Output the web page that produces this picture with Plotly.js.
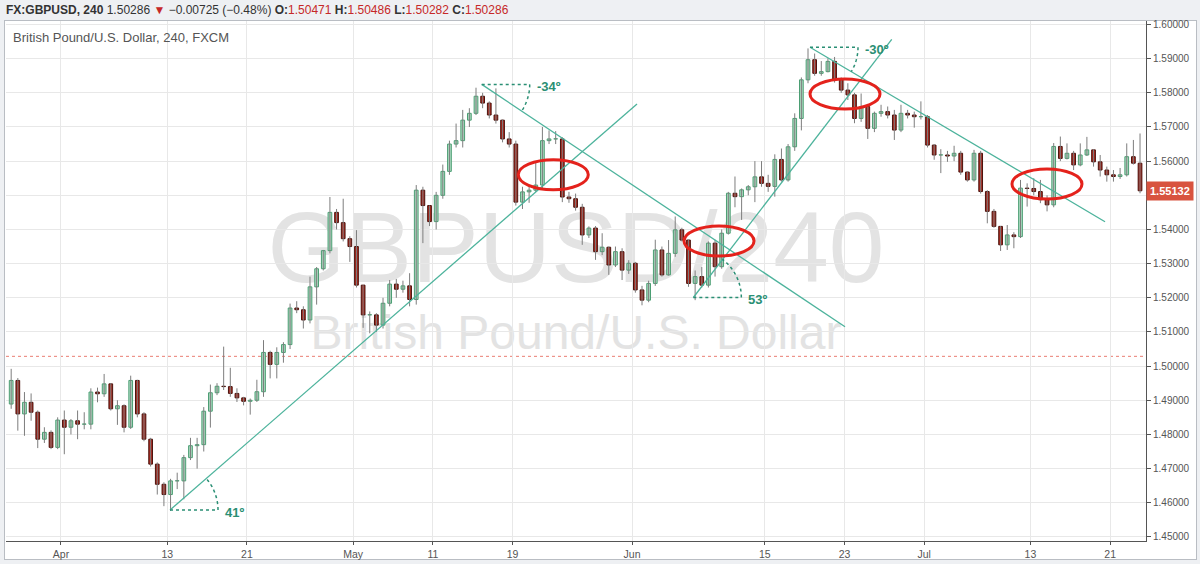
<!DOCTYPE html>
<html><head><meta charset="utf-8">
<script src="https://cdn.plot.ly/plotly-3.0.1.min.js"></script>
<style>
html,body{margin:0;padding:0;background:#eef0f3;width:1200px;height:564px;overflow:hidden;font-family:"Liberation Sans",Arial,sans-serif;}
#frame{position:absolute;left:4px;top:20px;width:1191px;height:538px;background:#fff;border:1px solid #b9bdc3;}
.wm{position:absolute;left:6px;width:1140px;text-align:center;color:#e3e3e3;white-space:nowrap;line-height:1;}
#wm1{font-size:100px;top:197px;}
#wm2{font-size:48px;top:309px;}
#chart{position:absolute;left:0;top:0;width:1200px;height:564px;}
#hdr{position:absolute;left:6px;top:3px;font-size:12px;color:#333;white-space:nowrap;}
#hdr .r{color:#c62828;}
#legend{position:absolute;left:13px;top:30px;font-size:13px;color:#555;white-space:nowrap;}
</style></head>
<body>
<div id="frame"></div>
<div class="wm" id="wm1">GBPUSD/240</div>
<div class="wm" id="wm2">British Pound/U.S. Dollar</div>
<div id="chart"></div>
<div id="hdr"><b>FX:GBPUSD, 240</b> 1.50286 <span class="r">▼</span> −0.00725 (−0.48%) <b>O:</b><span class="r">1.50471</span> <b>H:</b><span class="r">1.50486</span> <b>L:</b><span class="r">1.50282</span> <b>C:</b><span class="r">1.50286</span></div>
<div id="legend">British Pound/U.S. Dollar, 240, FXCM</div>
<script>
// ---- data (half-day bars; open = previous close) ----
const barsPerDay = 2;
const open0 = 1.4889;
const highs = [
1.4992,1.4965,1.4924,1.4920,1.4870,1.4821,1.4812,1.4850,1.4870,1.4845,
1.4870,1.4865,1.4935,1.4937,1.4977,1.4950,1.4900,1.4888,1.4972,1.4960,
1.4865,1.4790,1.4718,1.4660,1.4670,1.4688,1.4740,1.4790,1.4790,1.4880,
1.4946,1.4950,1.5057,1.4995,1.4935,1.4910,1.4905,1.4960,1.5076,1.5045,
1.5055,1.5070,1.5183,1.5190,1.5175,1.5262,1.5290,1.5340,1.5495,1.5460,
1.5490,1.5380,1.5398,1.5237,1.5160,1.5155,1.5200,1.5252,1.5255,1.5250,
1.5272,1.5530,1.5525,1.5470,1.5510,1.5590,1.5660,1.5710,1.5750,1.5755,
1.5815,1.5800,1.5775,1.5813,1.5722,1.5685,1.5660,1.5525,1.5530,1.5596,
1.5700,1.5690,1.5688,1.5670,1.5510,1.5505,1.5475,1.5409,1.5410,1.5389,
1.5350,1.5350,1.5345,1.5310,1.5305,1.5235,1.5250,1.5370,1.5350,1.5369,
1.5438,1.5405,1.5370,1.5280,1.5290,1.5365,1.5370,1.5400,1.5510,1.5555,
1.5520,1.5530,1.5600,1.5600,1.5560,1.5620,1.5637,1.5650,1.5740,1.5845,
1.5930,1.5915,1.5893,1.5901,1.5905,1.5845,1.5828,1.5800,1.5798,1.5765,
1.5745,1.5765,1.5760,1.5750,1.5765,1.5750,1.5745,1.5775,1.5735,1.5650,
1.5635,1.5630,1.5645,1.5630,1.5570,1.5633,1.5630,1.5515,1.5460,1.5410,
1.5413,1.5392,1.5545,1.5535,1.5550,1.5545,1.5500,1.5653,1.5672,1.5652,
1.5630,1.5652,1.5671,1.5635,1.5618,1.5584,1.5574,1.5580,1.5652,1.5662,1.5681];
const lows = [
1.4875,1.4811,1.4796,1.4840,1.4760,1.4775,1.4757,1.4757,1.4742,1.4800,
1.4786,1.4815,1.4815,1.4894,1.4910,1.4870,1.4828,1.4806,1.4816,1.4850,
1.4780,1.4706,1.4624,1.4590,1.4576,1.4640,1.4610,1.4725,1.4700,1.4750,
1.4820,1.4915,1.4930,1.4910,1.4895,1.4885,1.4858,1.4895,1.4910,1.4964,
1.4964,1.5010,1.5050,1.5155,1.5110,1.5125,1.5180,1.5280,1.5330,1.5400,
1.5365,1.5305,1.5230,1.5112,1.5096,1.5100,1.5110,1.5175,1.5200,1.5215,
1.5175,1.5180,1.5360,1.5410,1.5400,1.5490,1.5560,1.5640,1.5640,1.5700,
1.5735,1.5755,1.5725,1.5710,1.5655,1.5640,1.5470,1.5460,1.5478,1.5510,
1.5520,1.5650,1.5650,1.5480,1.5478,1.5455,1.5355,1.5375,1.5311,1.5325,
1.5267,1.5290,1.5252,1.5270,1.5215,1.5178,1.5187,1.5235,1.5262,1.5265,
1.5320,1.5365,1.5232,1.5193,1.5230,1.5230,1.5262,1.5285,1.5385,1.5465,
1.5428,1.5500,1.5480,1.5525,1.5510,1.5496,1.5540,1.5540,1.5630,1.5690,
1.5828,1.5850,1.5850,1.5860,1.5830,1.5800,1.5779,1.5711,1.5715,1.5665,
1.5685,1.5730,1.5725,1.5662,1.5685,1.5725,1.5698,1.5722,1.5640,1.5604,
1.5565,1.5598,1.5600,1.5560,1.5540,1.5540,1.5505,1.5418,1.5405,1.5337,
1.5340,1.5345,1.5375,1.5467,1.5500,1.5477,1.5453,1.5465,1.5600,1.5605,
1.5574,1.5585,1.5615,1.5584,1.5555,1.5540,1.5540,1.5548,1.5555,1.5590,1.5506];
const closes = [
1.4958,1.4860,1.4894,1.4865,1.4786,1.4806,1.4762,1.4842,1.4821,1.4840,
1.4830,1.4830,1.4924,1.4919,1.4948,1.4875,1.4884,1.4821,1.4958,1.4860,
1.4786,1.4713,1.4654,1.4624,1.4664,1.4664,1.4732,1.4767,1.4770,1.4868,
1.4922,1.4941,1.4940,1.4920,1.4907,1.4897,1.4900,1.4925,1.5040,1.5005,
1.5040,1.5063,1.5170,1.5165,1.5135,1.5232,1.5285,1.5338,1.5450,1.5420,
1.5373,1.5350,1.5237,1.5150,1.5150,1.5120,1.5184,1.5240,1.5225,1.5235,
1.5195,1.5515,1.5470,1.5423,1.5500,1.5570,1.5650,1.5660,1.5720,1.5740,
1.5790,1.5770,1.5735,1.5720,1.5665,1.5650,1.5480,1.5510,1.5515,1.5530,
1.5660,1.5665,1.5665,1.5495,1.5490,1.5465,1.5384,1.5404,1.5335,1.5348,
1.5296,1.5335,1.5281,1.5301,1.5223,1.5193,1.5242,1.5340,1.5267,1.5330,
1.5399,1.5369,1.5242,1.5262,1.5237,1.5360,1.5291,1.5389,1.5506,1.5496,
1.5516,1.5525,1.5554,1.5535,1.5526,1.5605,1.5545,1.5642,1.5725,1.5838,
1.5897,1.5857,1.5862,1.5892,1.5838,1.5808,1.5794,1.5725,1.5760,1.5696,
1.5740,1.5745,1.5735,1.5691,1.5740,1.5735,1.5730,1.5730,1.5647,1.5618,
1.5618,1.5615,1.5623,1.5568,1.5545,1.5623,1.5511,1.5453,1.5409,1.5355,
1.5384,1.5379,1.5521,1.5520,1.5511,1.5487,1.5472,1.5643,1.5608,1.5623,
1.5589,1.5618,1.5633,1.5598,1.5574,1.5560,1.5555,1.5560,1.5613,1.5594,1.55132];

// trading-day index of each labelled date (Mar 26 = day 0)
const tickDays = [4, 12, 18, 26, 32, 38, 47, 57, 63, 69, 77, 83];
const tickLabels = ['Apr','13','21','May','11','19','Jun','15','23','Jul','13','21'];

// trend-line drawings: anchors in (bar index, price)
const trendX0 = [24.42, 71.36, 103.23, 120.80];
const trendP0 = [1.45787, 1.58247, 1.52008, 1.59335];
const trendX1 = [94.75, 126.07, 133.11, 165.23];
const trendP1 = [1.57673, 1.51153, 1.59567, 1.54227];
const angleLabels = ['41º', '-34º', '53º', '-30º'];

// red ellipse highlights: centres in (bar index, price)
const ellipseX = [82.14, 107.10, 126.07, 156.49];
const ellipseP = [1.55603, 1.53662, 1.57965, 1.55331];

const lastPrice = 1.55132;
const headerClose = 1.50286;

// ---- build ----
const opens = closes.map((c, i) => i === 0 ? open0 : closes[i - 1]);
const W = 1200, H = 564, mL = 6, mR = 54, mT = 21, mB = 23;
const xr = [-0.28, 171.4], yr = [1.4488, 1.601025];
const sx = (W - mL - mR) / (xr[1] - xr[0]);
const sy = (H - mT - mB) / (yr[1] - yr[0]);

const wx = [], wy = [];
const up = {x: [], base: [], h: []}, dn = {x: [], base: [], h: []};
const minH = 0.00004;
closes.forEach((c, i) => {
  const o = opens[i], xc = i + 0.5;
  wx.push(xc, xc, null); wy.push(lows[i], highs[i], null);
  if (c >= o) { up.x.push(xc); up.base.push(o); up.h.push(Math.max(c - o, minH)); }
  else { dn.x.push(xc); dn.base.push(c); dn.h.push(Math.max(o - c, minH)); }
});

const traces = [
  {type: 'scatter', mode: 'lines', x: wx, y: wy, line: {color: '#7d7d7d', width: 1}, hoverinfo: 'skip', connectgaps: false},
  {type: 'bar', x: up.x, base: up.base, y: up.h, width: 0.56,
   marker: {color: '#acd9c0', line: {color: '#4b9e73', width: 1}}, hoverinfo: 'skip'},
  {type: 'bar', x: dn.x, base: dn.base, y: dn.h, width: 0.56,
   marker: {color: '#a8291f', line: {color: '#4a120c', width: 1}}, hoverinfo: 'skip'}
];

const shapes = [], annotations = [];
shapes.push({type: 'line', xref: 'paper', x0: 0, x1: 1, yref: 'y', y0: headerClose, y1: headerClose,
  line: {color: '#ea7d73', width: 1, dash: 'dot'}, layer: 'below'});

const R = 48;
const teal = '#4db39c', tealDark = '#2a8f74';
trendX0.forEach((x0, i) => {
  const p0 = trendP0[i], x1 = trendX1[i], p1 = trendP1[i];
  shapes.push({type: 'line', xref: 'x', yref: 'y', x0: x0, y0: p0, x1: x1, y1: p1,
    line: {color: teal, width: 1.3}});
  const th = Math.atan2((p1 - p0) * sy, (x1 - x0) * sx);
  shapes.push({type: 'line', xref: 'x', yref: 'y', x0: x0, y0: p0, x1: x0 + R / sx, y1: p0,
    line: {color: tealDark, width: 1.5, dash: 'dot'}});
  const pts = [];
  for (let s = 0; s <= 24; s++) {
    const t = th * s / 24;
    pts.push((x0 + R * Math.cos(t) / sx).toFixed(4) + ',' + (p0 + R * Math.sin(t) / sy).toFixed(6));
  }
  shapes.push({type: 'path', xref: 'x', yref: 'y', path: 'M' + pts.join(' L'),
    line: {color: tealDark, width: 1.5, dash: 'dot'}});
  annotations.push({xref: 'x', yref: 'y', x: x0 + (R + 5) / sx, y: p0, xanchor: 'left', yanchor: 'middle',
    yshift: -2, showarrow: false, text: '<b>' + angleLabels[i] + '</b>',
    font: {family: 'Liberation Sans, Arial, sans-serif', size: 13, color: tealDark}});
});

ellipseX.forEach((cx, i) => {
  const cp = ellipseP[i];
  shapes.push({type: 'circle', xref: 'x', yref: 'y', x0: cx - 35 / sx, x1: cx + 35 / sx,
    y0: cp - 15 / sy, y1: cp + 15 / sy, line: {color: '#e4221c', width: 3}});
});

annotations.push({xref: 'paper', yref: 'y', x: 1, y: lastPrice, xanchor: 'left', yanchor: 'middle',
  showarrow: false, text: '<b>' + lastPrice.toFixed(5) + '</b>', bgcolor: '#d8533f',
  font: {family: 'Liberation Sans, Arial, sans-serif', size: 11, color: '#ffffff'}, borderpad: 3});

const layout = {
  width: W, height: H, margin: {l: mL, r: mR, t: mT, b: mB},
  paper_bgcolor: 'rgba(0,0,0,0)', plot_bgcolor: 'rgba(0,0,0,0)',
  showlegend: false, barmode: 'overlay', bargap: 0,
  font: {family: 'Liberation Sans, Arial, sans-serif', color: '#555'},
  xaxis: {range: xr, tickmode: 'array', tickvals: tickDays.map(d => d * barsPerDay), ticktext: tickLabels,
    showgrid: true, gridcolor: '#e8e8e8', zeroline: false, showline: true, linecolor: '#555', linewidth: 1,
    ticks: 'outside', ticklen: 3, tickcolor: '#555', tickfont: {size: 10.5, color: '#555'}, fixedrange: true},
  yaxis: {range: yr, side: 'right', tick0: 1.45, dtick: 0.01, tickformat: '.5f',
    showgrid: true, gridcolor: '#e8e8e8', zeroline: false, showline: true, linecolor: '#555', linewidth: 1,
    ticks: 'outside', ticklen: 4, tickcolor: '#555', tickfont: {size: 10, color: '#555'}, fixedrange: true},
  shapes: shapes, annotations: annotations
};
Plotly.newPlot('chart', traces, layout, {staticPlot: true, displayModeBar: false});
</script>
</body></html>
